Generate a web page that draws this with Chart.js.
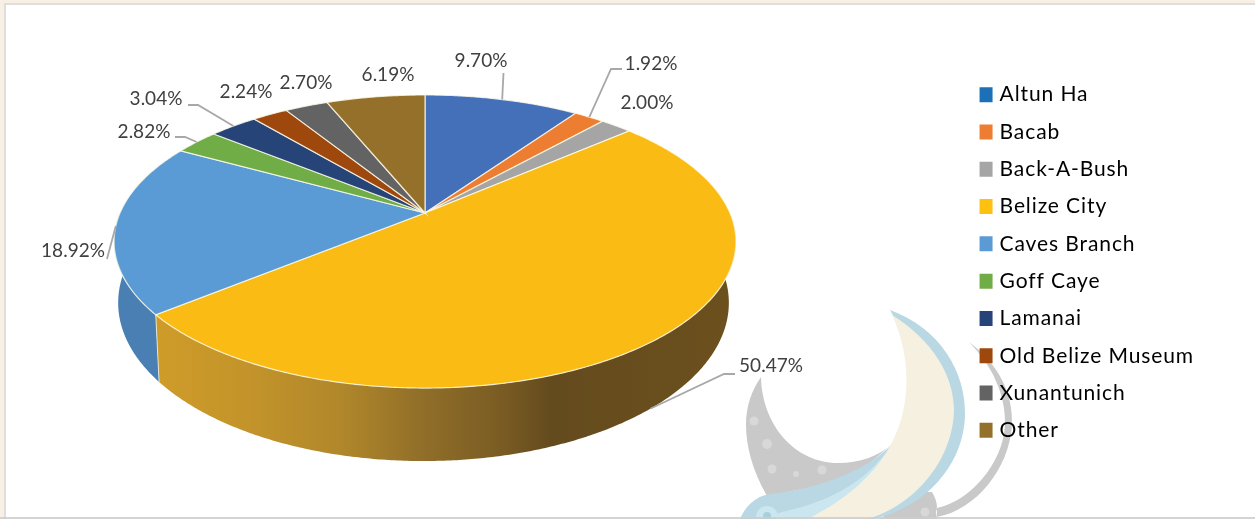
<!DOCTYPE html>
<html>
<head>
<meta charset="utf-8">
<title>Visitors by site</title>
<script src="https://cdn.jsdelivr.net/npm/chart.js@4"></script>
<style>
  html, body { margin: 0; padding: 0; background: #f8efe5; overflow: hidden; }
  #frame { position: absolute; left: 4px; top: 3px; width: 1251px; height: 516px; box-sizing: border-box;
           background: #fff; border-left: 2px solid #dedede; border-top: 2px solid #dedede; }
  #edge { position: absolute; left: 0; top: 517px; width: 1255px; height: 2px; background: rgba(205, 205, 205, 0.85); z-index: 2; }
  #siteChart { position: absolute; left: 0; top: 0; z-index: 1; }
</style>
</head>
<body>
<div id="frame"></div>
<canvas id="siteChart" width="1255" height="519"></canvas>
<div id="edge"></div>
<script>
const sites = ['Altun Ha', 'Bacab', 'Back-A-Bush', 'Belize City', 'Caves Branch', 'Goff Caye', 'Lamanai', 'Old Belize Museum', 'Xunantunich', 'Other'];
const shares = [9.70, 1.92, 2.00, 50.47, 18.92, 2.82, 3.04, 2.24, 2.70, 6.19];
const sliceColors = ['#4470ba', '#ed7d31', '#a5a5a5', '#f9bb14', '#5b9bd5', '#70ad47', '#264478', '#9e480e', '#636363', '#94702a'];
const legendColors = ['#1c70b8', '#ed7d31', '#a5a5a5', '#ffc110', '#5b9bd5', '#70ad47', '#264478', '#9e480e', '#636363', '#94702a'];

// label centres and leader bends, per slice
const labelSpots = [
  { x: 481, y: 61, bend: [[503.5, 73]] },
  { x: 651, y: 64, bend: [[622, 69], [611, 69]] },
  { x: 647, y: 103 },
  { x: 771, y: 366, bend: [[735, 374], [724, 374]], toFloor: true },
  { x: 73, y: 251, bend: [[107, 259]] },
  { x: 144, y: 132, bend: [[175, 137], [185, 137]] },
  { x: 156, y: 99, bend: [[188, 105], [198, 105]] },
  { x: 246, y: 92 },
  { x: 306, y: 83 },
  { x: 388, y: 75 }
];

// perspective of the pie disc: the hub sits above the middle of the ellipse
const disc = { cx: 425, cy: 213, a: 305, b: 141, c: 0.1945 };

function rimPoint(theta) {
  const u = Math.sin(theta), v = Math.cos(theta), d = 1 + disc.c * v;
  return { x: disc.cx + disc.a * u / d, y: disc.cy - disc.b * v / d };
}

function floorPoint(theta) {
  const p = rimPoint(theta);
  return { x: disc.cx - 1.5 + 0.982 * (p.x - disc.cx), y: 272 + 1.08 * (p.y - disc.cy) };
}

function wallFill(ctx, i) {
  const g = ctx.createLinearGradient(120, 0, 735, 0);
  if (i === 3) {
    g.addColorStop(0.06, '#cf9c29');
    g.addColorStop(0.22, '#c2932a');
    g.addColorStop(0.36, '#b0872a');
    g.addColorStop(0.5, '#8f6d29');
    g.addColorStop(0.62, '#7a5c23');
    g.addColorStop(0.7, '#644b1e');
    g.addColorStop(1, '#6c501d');
  } else {
    g.addColorStop(0, '#4a7fb4');
    g.addColorStop(1, '#4a7fb4');
  }
  return g;
}

const piePlugin = {
  id: 'tiltedPie',
  beforeDatasetsDraw(chart) {
    const ctx = chart.ctx;
    const arcs = chart.getDatasetMeta(0).data;
    const front = [Math.PI / 2, Math.PI * 1.5];
    ctx.save();
    ctx.letterSpacing = '0px';

    // side wall of the slices facing the viewer
    arcs.forEach((arc, i) => {
      const from = Math.max(arc.startAngle + Math.PI / 2, front[0]);
      const to = Math.min(arc.endAngle + Math.PI / 2, front[1]);
      if (to <= from) return;
      const steps = Math.ceil((to - from) * 120);
      ctx.beginPath();
      for (let s = 0; s <= steps; s++) {
        const p = rimPoint(from + (to - from) * s / steps);
        s === 0 ? ctx.moveTo(p.x, p.y) : ctx.lineTo(p.x, p.y);
      }
      for (let s = steps; s >= 0; s--) {
        const p = floorPoint(from + (to - from) * s / steps);
        ctx.lineTo(p.x, p.y);
      }
      ctx.closePath();
      ctx.fillStyle = wallFill(ctx, i);
      ctx.fill();
    });

    // pale seam where two walls meet
    const seam = arcs[3].endAngle + Math.PI / 2;
    const top = rimPoint(seam), bottom = floorPoint(seam);
    ctx.strokeStyle = 'rgba(255, 250, 225, 0.75)';
    ctx.lineWidth = 1;
    ctx.beginPath();
    ctx.moveTo(top.x, top.y);
    ctx.lineTo(bottom.x, bottom.y);
    ctx.stroke();

    // top face
    arcs.forEach((arc, i) => {
      const from = arc.startAngle + Math.PI / 2, to = arc.endAngle + Math.PI / 2;
      const steps = Math.ceil((to - from) * 120);
      ctx.beginPath();
      ctx.moveTo(disc.cx, disc.cy);
      for (let s = 0; s <= steps; s++) {
        const p = rimPoint(from + (to - from) * s / steps);
        ctx.lineTo(p.x, p.y);
      }
      ctx.closePath();
      ctx.fillStyle = sliceColors[i];
      ctx.fill();
      ctx.strokeStyle = 'rgba(255, 253, 235, 0.8)';
      ctx.lineWidth = 1.2;
      ctx.stroke();
    });

    // leaders and value labels
    ctx.strokeStyle = '#a8a8a8';
    ctx.lineWidth = 1.8;
    labelSpots.forEach((spot, i) => {
      if (!spot.bend) return;
      const mid = (arcs[i].startAngle + arcs[i].endAngle) / 2 + Math.PI / 2;
      const end = spot.toFloor ? floorPoint(mid) : rimPoint(mid);
      ctx.beginPath();
      spot.bend.forEach((b, n) => n === 0 ? ctx.moveTo(b[0], b[1]) : ctx.lineTo(b[0], b[1]));
      ctx.lineTo(end.x, end.y);
      ctx.stroke();
    });
    ctx.font = '19px Lato';
    ctx.fillStyle = '#404040';
    ctx.textAlign = 'center';
    ctx.textBaseline = 'middle';
    labelSpots.forEach((spot, i) => {
      ctx.fillText(shares[i].toFixed(2) + '%', spot.x, spot.y);
    });
    ctx.restore();
    return false;
  }
};

// moon emblem behind the chart
function drawEmblem(ctx) {
  ctx.save();
  ctx.beginPath();
  ctx.rect(0, 0, 1255, 519);
  ctx.clip();

  ctx.fillStyle = '#c9c9c9';
  ctx.beginPath();
  ctx.moveTo(969, 342);
  ctx.bezierCurveTo(1000, 365, 1013, 395, 1012, 425);
  ctx.bezierCurveTo(1009, 470, 975, 510, 937, 517);
  ctx.lineTo(937, 508);
  ctx.bezierCurveTo(968, 502, 1003, 465, 1005, 425);
  ctx.bezierCurveTo(1006, 395, 992, 365, 969, 342);
  ctx.fill();

  ctx.beginPath();
  ctx.moveTo(761, 377);
  ctx.bezierCurveTo(762, 425, 795, 463, 838, 463);
  ctx.bezierCurveTo(860, 463, 878, 456, 891, 445);
  ctx.lineTo(850, 480);
  ctx.lineTo(767, 496);
  ctx.bezierCurveTo(752, 470, 746, 445, 746, 425);
  ctx.bezierCurveTo(746, 405, 752, 390, 761, 377);
  ctx.fill();

  ctx.beginPath();
  ctx.moveTo(915, 492);
  ctx.lineTo(932, 492);
  ctx.bezierCurveTo(937, 500, 938, 508, 936, 512);
  ctx.lineTo(937, 519);
  ctx.lineTo(880, 519);
  ctx.closePath();
  ctx.fill();

  ctx.fillStyle = '#d8d8d8';
  [[754, 421, 4.5], [767, 444, 5], [772, 469, 4.5], [796, 474, 3], [822, 470, 4.5], [925, 512, 4.5]].forEach(d => {
    ctx.beginPath();
    ctx.arc(d[0], d[1], d[2], 0, Math.PI * 2);
    ctx.fill();
  });

  // blue crescent and the tail sweeping under it
  ctx.fillStyle = '#b9d8e4';
  ctx.beginPath();
  ctx.moveTo(890, 310);
  ctx.bezierCurveTo(940, 328, 966, 372, 965, 415);
  ctx.bezierCurveTo(964, 465, 925, 508, 873, 519);
  ctx.lineTo(860, 519);
  ctx.lineTo(940, 400);
  ctx.closePath();
  ctx.fill();

  ctx.beginPath();
  ctx.moveTo(891, 445);
  ctx.bezierCurveTo(868, 470, 815, 490, 770, 494);
  ctx.bezierCurveTo(755, 496, 745, 507, 740, 519);
  ctx.lineTo(808, 519);
  ctx.bezierCurveTo(845, 500, 875, 475, 891, 445);
  ctx.fill();

  ctx.fillStyle = '#cbe6ee';
  ctx.beginPath();
  ctx.moveTo(891, 445);
  ctx.bezierCurveTo(865, 485, 825, 503, 778, 513);
  ctx.lineTo(775, 519);
  ctx.lineTo(808, 519);
  ctx.bezierCurveTo(845, 500, 875, 475, 891, 445);
  ctx.fill();
  ctx.beginPath();
  ctx.arc(767, 517, 11, Math.PI, Math.PI * 2);
  ctx.fill();
  ctx.fillStyle = '#a9cfdc';
  ctx.beginPath();
  ctx.arc(767, 516, 4, 0, Math.PI * 2);
  ctx.fill();

  // cream crescent on top
  ctx.fillStyle = '#f5f0e0';
  ctx.beginPath();
  ctx.moveTo(892, 315);
  ctx.bezierCurveTo(932, 340, 954, 375, 954, 410);
  ctx.bezierCurveTo(953, 460, 915, 505, 868, 519);
  ctx.lineTo(808, 519);
  ctx.bezierCurveTo(845, 500, 875, 475, 890, 446);
  ctx.bezierCurveTo(908, 415, 915, 365, 892, 315);
  ctx.fill();
  ctx.restore();
}

const legendSpacing = '0.9px';

const framePlugin = {
  id: 'emblem',
  // the legend measures its text during layout, so the spacing has to be set by then
  beforeLayout(chart) {
    chart.ctx.letterSpacing = legendSpacing;
  },
  beforeDraw(chart) {
    drawEmblem(chart.ctx);
    chart.ctx.letterSpacing = legendSpacing;
  }
};

new Chart(document.getElementById('siteChart'), {
  type: 'pie',
  data: {
    labels: sites,
    datasets: [{ data: shares, backgroundColor: sliceColors, borderWidth: 0 }]
  },
  plugins: [framePlugin, piePlugin],
  options: {
    responsive: false,
    animation: false,
    layout: { padding: { right: 51, top: 6 } },
    plugins: {
      tooltip: { enabled: false },
      legend: {
        position: 'right',
        labels: {
          font: { family: 'Lato', size: 21 },
          color: '#5c5c5c',
          boxWidth: 6,
          boxHeight: 8,
          padding: 16.3,
          generateLabels: chart => chart.data.labels.map((text, i) => ({
            text: text,
            fillStyle: legendColors[i],
            strokeStyle: legendColors[i],
            lineWidth: 7,
            hidden: false,
            index: i
          }))
        }
      }
    }
  }
});
</script>
</body>
</html>
